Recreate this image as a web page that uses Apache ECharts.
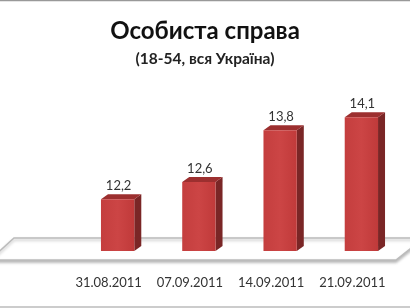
<!DOCTYPE html>
<html><head><meta charset="utf-8">
<script src="https://cdn.jsdelivr.net/npm/echarts@6/dist/echarts.min.js"></script>
<style>html,body{margin:0;padding:0;background:#fff}#c{width:410px;height:308px}</style>
</head><body><div id="c"></div>
<script>
var categories = ['31.08.2011', '07.09.2011', '14.09.2011', '21.09.2011'];
var values = [12.2, 12.6, 13.8, 14.1];
var titleText = 'Особиста справа';
var subtitleText = '(18-54, вся Україна)';
var yMin = 11, yMax = 14.5;

var chart = echarts.init(document.getElementById('c'));
var DX = 7, DY = 5;
chart.setOption({
  animation: false,
  backgroundColor: '#fff',
  title: {
    text: titleText, subtext: subtitleText, left: 'center', top: 14, itemGap: 8,
    textStyle: {fontFamily: 'Lato', fontWeight: 'bold', fontSize: 24, color: '#111'},
    subtextStyle: {fontFamily: 'Lato', fontWeight: 'bold', fontSize: 15.5, color: '#222'}
  },
  graphic: [
    {type: 'line', shape: {x1: 0, y1: 0.5, x2: 410, y2: 0.5}, style: {stroke: '#999', lineWidth: 1.5}, z: 0},
    {type: 'line', shape: {x1: 0, y1: 307, x2: 410, y2: 307}, style: {stroke: '#999', lineWidth: 1}, z: 0},
    {type: 'polygon', shape: {points: [[-10, 260], [14, 238], [424, 238], [396, 260]]},
     style: {fill: '#fff', stroke: '#bbb', lineWidth: 1.5, shadowColor: 'rgba(0,0,0,0.25)', shadowBlur: 3, shadowOffsetY: 2}, z: 0}
  ],
  grid: {left: 77, right: 8, top: 100, bottom: 57},
  xAxis: {
    type: 'category', data: categories,
    axisLine: {show: false}, axisTick: {show: false},
    axisLabel: {interval: 0, hideOverlap: false, margin: 25, fontFamily: 'Lato', fontSize: 13, color: '#333', padding: [0, 18, 0, 0]}
  },
  yAxis: {type: 'value', min: yMin, max: yMax, show: false, splitLine: {show: false}},
  series: [{
    type: 'custom',
    data: values.map(function (v, i) { return [i, v]; }),
    encode: {x: 0, y: 1},
    z: 5,
    renderItem: function (params, api) {
      var idx = api.value(0);
      var v = api.value(1);
      var top = api.coord([idx, v]);
      var base = api.coord([idx, yMin]);
      var w = api.size([1, 0])[0] * 0.41;
      var x0 = top[0] - w / 2, x1 = top[0] + w / 2;
      var yt = top[1], yb = base[1];
      return {
        type: 'group',
        children: [
          {type: 'polygon', shape: {points: [[x1, yt], [x1 + DX, yt - DY], [x1 + DX, yb - DY], [x1, yb]]},
           style: {fill: '#7a2626'}},
          {type: 'polygon', shape: {points: [[x0, yt], [x0 + DX, yt - DY], [x1 + DX, yt - DY], [x1, yt]]},
           style: {fill: '#9c2f2f'}},
          {type: 'rect', shape: {x: x0, y: yt, width: w, height: yb - yt},
           style: {fill: new echarts.graphic.LinearGradient(0, 0, 1, 0, [
             {offset: 0, color: '#c43e3e'}, {offset: 0.5, color: '#cc4545'}, {offset: 1, color: '#c03a3a'}])}},
          {type: 'text', x: top[0] + 1, y: yt - DY - 2,
           style: {text: String(v).replace('.', ','), fill: '#333', font: '13px Lato', align: 'center', verticalAlign: 'bottom'}}
        ]
      };
    }
  }]
});
</script></body></html>
